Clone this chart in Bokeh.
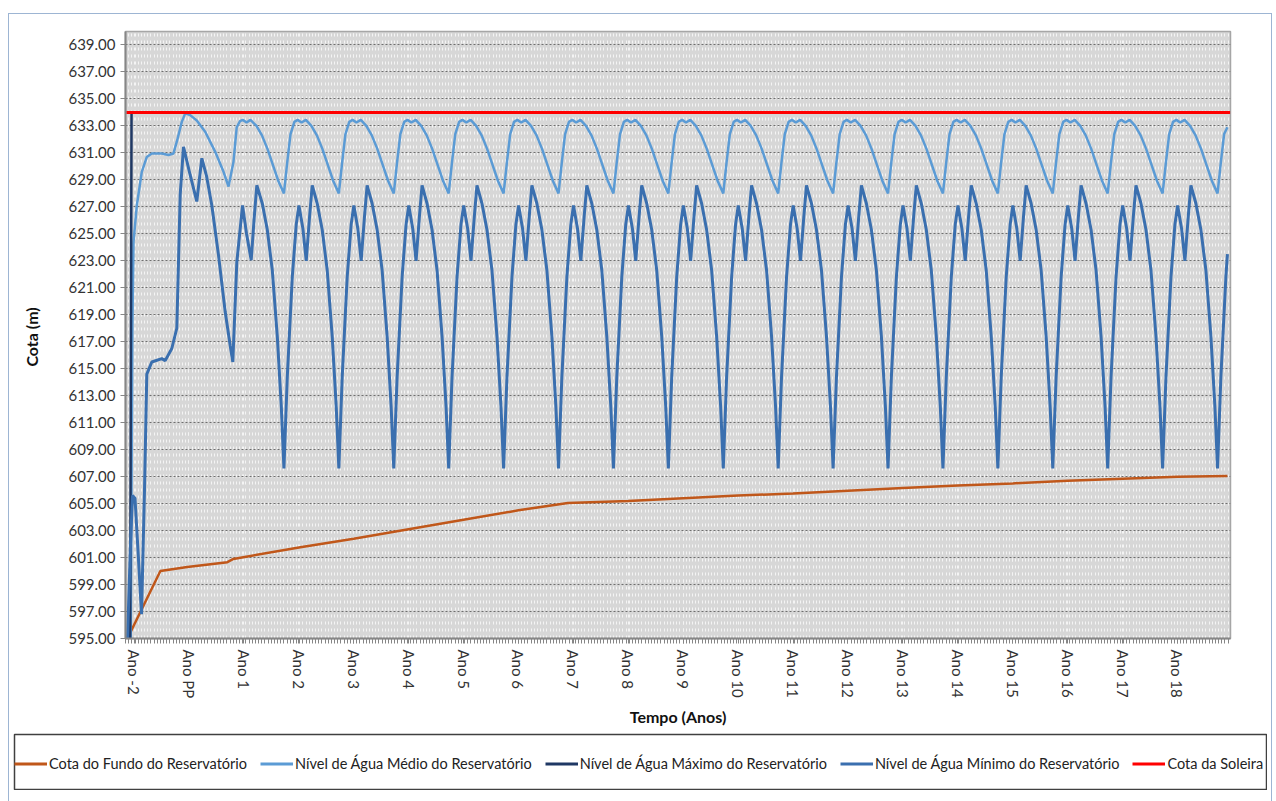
import numpy as np
from bokeh.plotting import figure
from bokeh.layouts import column
from bokeh.models import FixedTicker, NumeralTickFormatter, Range1d, Legend, LegendItem
from bokeh.embed import file_html
from bokeh.resources import INLINE

# ---------------- data (x in "year slots": 0 = Ano -2, 1 = Ano PP, 2 = Ano 1 ... 19 = Ano 18) ----
TICK_POS = [0, 1, 2, 3, 4, 5, 6, 7, 8, 9, 10, 11, 12, 13, 14, 15, 16, 17, 18, 19]
TICK_LABELS = ["Ano -2", "Ano PP", "Ano 1", "Ano 2", "Ano 3", "Ano 4", "Ano 5", "Ano 6",
               "Ano 7", "Ano 8", "Ano 9", "Ano 10", "Ano 11", "Ano 12", "Ano 13",
               "Ano 14", "Ano 15", "Ano 16", "Ano 17", "Ano 18"]
Y_TICKS = [595, 597, 599, 601, 603, 605, 607, 609, 611, 613, 615, 617, 619, 621, 623,
           625, 627, 629, 631, 633, 635, 637, 639]

# Cota do Fundo do Reservatório
FUNDO_X = [-0.12, 0.48, 0.97, 1.70, 1.81, 3.03, 4.0, 5.0, 6.0, 7.0, 7.9, 9.0, 10.0, 11.0,
           12.0, 13.0, 14.0, 15.0, 16.0, 17.0, 18.0, 19.0, 19.91]
FUNDO_V = [595.0, 600.0, 600.3, 600.66, 600.9, 601.77, 602.4, 603.1, 603.8, 604.5, 605.05,
           605.2, 605.4, 605.6, 605.75, 605.95, 606.15, 606.35, 606.5, 606.7, 606.85, 607.0, 607.05]

# Nível de Água Máximo do Reservatório
MAX_X = [-0.07, -0.045, 19.91]
MAX_V = [595.0, 634.0, 634.0]

# Cota da Soleira
SOL_X = [-0.14, 19.96]
SOL_V = [634.0, 634.0]

# Nível de Água Mínimo do Reservatório: start-up years
MIN_START_X = [-0.118, -0.064, -0.027, 0.018, 0.073, 0.137, 0.191, 0.233, 0.324, 0.506,
               0.568, 0.688, 0.779, 0.810, 0.841, 0.901, 1.020, 1.143, 1.235, 1.320, 1.417,
               1.539, 1.661, 1.752, 1.799, 1.872, 1.976, 2.049, 2.134, 2.185, 2.236, 2.336,
               2.427, 2.518, 2.609, 2.682]
MIN_START_V = [595.0, 602.0, 605.6, 605.4, 601.5, 596.8, 606.0, 614.6, 615.5, 615.75,
               615.6, 616.5, 618.0, 622.9, 627.9, 631.45, 629.4, 627.4, 630.6, 629.3, 627.1,
               623.4, 619.2, 616.7, 615.5, 622.9, 627.1, 625.0, 623.05, 626.0, 628.6, 627.25,
               625.3, 622.3, 617.4, 612.2]

# Nível de Água Médio do Reservatório: start-up years
MED_START_X = [-0.06, -0.03, -0.009, 0.051, 0.142, 0.233, 0.324, 0.506, 0.628, 0.719, 0.779,
               0.870, 0.932, 1.023, 1.143, 1.296, 1.479, 1.630, 1.721, 1.81, 1.87, 1.93, 1.98,
               2.05, 2.12, 2.23, 2.33, 2.43, 2.53, 2.63]
MED_START_V = [595.0, 618.0, 624.4, 627.1, 629.6, 630.7, 630.96, 630.96, 630.84, 630.96,
               631.83, 633.3, 633.93, 633.8, 633.4, 632.57, 631.08, 629.6, 628.5, 630.3, 632.9,
               633.35, 633.45, 633.25, 633.45, 633.0, 632.3, 631.3, 630.1, 628.9]

# yearly operation cycles: position of each yearly low and offsets inside a year
CYCLE_LOWS = [2.73, 3.73, 4.73, 5.73, 6.73, 7.73, 8.73, 9.73, 10.73, 11.73, 12.73, 13.73,
              14.73, 15.73, 16.73, 17.73, 18.73]
MIN_T = [0.000, 0.061, 0.152, 0.224, 0.273, 0.345, 0.406, 0.467, 0.515, 0.606, 0.697,
         0.788, 0.879, 0.952]
MIN_CYCLES = [
    [607.6, 614.4, 621.8, 625.7, 627.1, 625.4, 623.0, 626.3, 628.6, 627.25, 625.3, 622.3, 617.4, 612.2],
    [607.6, 614.4, 621.8, 625.7, 627.1, 625.4, 623.0, 626.3, 628.6, 627.25, 625.3, 622.3, 617.4, 612.2],
    [607.6, 614.4, 621.8, 625.7, 627.1, 625.4, 623.0, 626.3, 628.6, 627.25, 625.3, 622.3, 617.4, 612.2],
    [607.6, 614.4, 621.8, 625.7, 627.1, 625.4, 623.0, 626.3, 628.6, 627.25, 625.3, 622.3, 617.4, 612.2],
    [607.6, 614.4, 621.8, 625.7, 627.1, 625.4, 623.0, 626.3, 628.6, 627.25, 625.3, 622.3, 617.4, 612.2],
    [607.6, 614.4, 621.8, 625.7, 627.1, 625.4, 623.0, 626.3, 628.6, 627.25, 625.3, 622.3, 617.4, 612.2],
    [607.6, 614.4, 621.8, 625.7, 627.1, 625.4, 623.0, 626.3, 628.6, 627.25, 625.3, 622.3, 617.4, 612.2],
    [607.6, 614.4, 621.8, 625.7, 627.1, 625.4, 623.0, 626.3, 628.6, 627.25, 625.3, 622.3, 617.4, 612.2],
    [607.6, 614.4, 621.8, 625.7, 627.1, 625.4, 623.0, 626.3, 628.6, 627.25, 625.3, 622.3, 617.4, 612.2],
    [607.6, 614.4, 621.8, 625.7, 627.1, 625.4, 623.0, 626.3, 628.6, 627.25, 625.3, 622.3, 617.4, 612.2],
    [607.6, 614.4, 621.8, 625.7, 627.1, 625.4, 623.0, 626.3, 628.6, 627.25, 625.3, 622.3, 617.4, 612.2],
    [607.6, 614.4, 621.8, 625.7, 627.1, 625.4, 623.0, 626.3, 628.6, 627.25, 625.3, 622.3, 617.4, 612.2],
    [607.6, 614.4, 621.8, 625.7, 627.1, 625.4, 623.0, 626.3, 628.6, 627.25, 625.3, 622.3, 617.4, 612.2],
    [607.6, 614.4, 621.8, 625.7, 627.1, 625.4, 623.0, 626.3, 628.6, 627.25, 625.3, 622.3, 617.4, 612.2],
    [607.6, 614.4, 621.8, 625.7, 627.1, 625.4, 623.0, 626.3, 628.6, 627.25, 625.3, 622.3, 617.4, 612.2],
    [607.6, 614.4, 621.8, 625.7, 627.1, 625.4, 623.0, 626.3, 628.6, 627.25, 625.3, 622.3, 617.4, 612.2],
    [607.6, 614.4, 621.8, 625.7, 627.1, 625.4, 623.0, 626.3, 628.6, 627.25, 625.3, 622.3, 617.4, 612.2],
]
MED_T = [0.00, 0.06, 0.12, 0.19, 0.25, 0.32, 0.40, 0.50, 0.60, 0.70, 0.80, 0.90]
MED_CYCLES = [
    [628.0, 630.3, 632.4, 633.3, 633.45, 633.25, 633.45, 633.0, 632.3, 631.3, 630.1, 628.9],
    [628.0, 630.3, 632.4, 633.3, 633.45, 633.25, 633.45, 633.0, 632.3, 631.3, 630.1, 628.9],
    [628.0, 630.3, 632.4, 633.3, 633.45, 633.25, 633.45, 633.0, 632.3, 631.3, 630.1, 628.9],
    [628.0, 630.3, 632.4, 633.3, 633.45, 633.25, 633.45, 633.0, 632.3, 631.3, 630.1, 628.9],
    [628.0, 630.3, 632.4, 633.3, 633.45, 633.25, 633.45, 633.0, 632.3, 631.3, 630.1, 628.9],
    [628.0, 630.3, 632.4, 633.3, 633.45, 633.25, 633.45, 633.0, 632.3, 631.3, 630.1, 628.9],
    [628.0, 630.3, 632.4, 633.3, 633.45, 633.25, 633.45, 633.0, 632.3, 631.3, 630.1, 628.9],
    [628.0, 630.3, 632.4, 633.3, 633.45, 633.25, 633.45, 633.0, 632.3, 631.3, 630.1, 628.9],
    [628.0, 630.3, 632.4, 633.3, 633.45, 633.25, 633.45, 633.0, 632.3, 631.3, 630.1, 628.9],
    [628.0, 630.3, 632.4, 633.3, 633.45, 633.25, 633.45, 633.0, 632.3, 631.3, 630.1, 628.9],
    [628.0, 630.3, 632.4, 633.3, 633.45, 633.25, 633.45, 633.0, 632.3, 631.3, 630.1, 628.9],
    [628.0, 630.3, 632.4, 633.3, 633.45, 633.25, 633.45, 633.0, 632.3, 631.3, 630.1, 628.9],
    [628.0, 630.3, 632.4, 633.3, 633.45, 633.25, 633.45, 633.0, 632.3, 631.3, 630.1, 628.9],
    [628.0, 630.3, 632.4, 633.3, 633.45, 633.25, 633.45, 633.0, 632.3, 631.3, 630.1, 628.9],
    [628.0, 630.3, 632.4, 633.3, 633.45, 633.25, 633.45, 633.0, 632.3, 631.3, 630.1, 628.9],
    [628.0, 630.3, 632.4, 633.3, 633.45, 633.25, 633.45, 633.0, 632.3, 631.3, 630.1, 628.9],
    [628.0, 630.3, 632.4, 633.3, 633.45, 633.25, 633.45, 633.0, 632.3, 631.3, 630.1, 628.9],
]
# last (partial) year at the right edge
LAST_LOW = 19.73
MIN_END_T = [0.0, 0.061, 0.152, 0.18]
MIN_END_V = [607.6, 614.4, 621.8, 623.5]
MED_END_T = [0.0, 0.06, 0.12, 0.18]
MED_END_V = [628.0, 630.3, 632.4, 632.9]

LEGEND_LABELS = ["Cota do Fundo do Reservatório", "Nível de Água Médio do Reservatório",
                 "Nível de Água Máximo do Reservatório", "Nível de Água Mínimo do Reservatório",
                 "Cota da Soleira"]
COLORS = ["#C0571A", "#5B9BD5", "#1F3864", "#3A6FAF", "#FF0000"]
WIDTHS = [2.5, 2.5, 2.5, 3, 3]

# ---------------- assemble series ----------------
def build(start_x, start_v, t_off, rows, end_t, end_v):
    xs, ys = list(start_x), list(start_v)
    for low, row in zip(CYCLE_LOWS, rows):
        xs += [low + t for t in t_off]
        ys += list(row)
    xs += [LAST_LOW + t for t in end_t]
    ys += list(end_v)
    return xs, ys

min_x, min_y = build(MIN_START_X, MIN_START_V, MIN_T, MIN_CYCLES, MIN_END_T, MIN_END_V)
med_x, med_y = build(MED_START_X, MED_START_V, MED_T, MED_CYCLES, MED_END_T, MED_END_V)

FONT = "Lato"

p = figure(width=1262, height=719, x_range=Range1d(-0.155, 19.966), y_range=Range1d(595, 640),
           output_backend="svg", toolbar_location=None,
           min_border_left=116, min_border_right=41, min_border_top=17, min_border_bottom=95,
           background_fill_color="#D7D7D7", border_fill_color="white")
p.frame_align = False

p.line(FUNDO_X, FUNDO_V, color=COLORS[0], line_width=WIDTHS[0])
p.line(med_x, med_y, color=COLORS[1], line_width=WIDTHS[1])
p.line(MAX_X, MAX_V, color=COLORS[2], line_width=WIDTHS[2])
p.line(min_x, min_y, color=COLORS[3], line_width=WIDTHS[3])
p.line(SOL_X, SOL_V, color=COLORS[4], line_width=WIDTHS[4])

# axes
minor = list(np.arange(-0.155, 19.966, 3 / 52))
p.xaxis.ticker = FixedTicker(ticks=TICK_POS, minor_ticks=minor)
p.xaxis.major_label_overrides = {k: v for k, v in zip(TICK_POS, TICK_LABELS)}
p.xaxis.major_label_orientation = "vertical"
p.yaxis.ticker = FixedTicker(ticks=Y_TICKS)
p.yaxis.formatter = NumeralTickFormatter(format="0.00")

for ax in (p.xaxis[0], p.yaxis[0]):
    ax.axis_line_color = "#868686"
    ax.axis_line_width = 2
    ax.major_tick_line_color = "#868686"
    ax.minor_tick_line_color = "#868686"
    ax.major_tick_in = 0
    ax.minor_tick_in = 0
    ax.major_tick_out = 5
    ax.minor_tick_out = 5
    ax.major_label_text_font = FONT
    ax.major_label_text_font_size = "15px"
    ax.major_label_text_color = "#333333"
    ax.axis_label_text_font = FONT
    ax.axis_label_text_font_size = "16px"
    ax.axis_label_text_font_style = "bold"
    ax.axis_label_text_color = "#111111"

p.yaxis.minor_tick_line_color = None
p.xaxis.major_label_standoff = 6
p.yaxis.major_label_standoff = 5
p.xaxis.axis_label = "Tempo (Anos)"
p.yaxis.axis_label = "Cota  (m)"
p.xaxis.axis_label_standoff = 6
p.yaxis.axis_label_standoff = 24

# grids
p.xgrid.grid_line_color = "#F4F4F4"
p.xgrid.grid_line_dash = "3 4"
p.xgrid.grid_line_width = 1
p.xgrid.minor_grid_line_color = "#F4F4F4"
p.xgrid.minor_grid_line_dash = "3 4"
p.xgrid.minor_grid_line_width = 1
p.ygrid.grid_line_color = "#6E6E6E"
p.ygrid.grid_line_dash = "2 2"
p.ygrid.grid_line_width = 1
p.outline_line_color = "#A6A6A6"
p.outline_line_width = 1.5

# legend box (separate strip below the chart, as in the reference)
lg = figure(width=1254, height=57, x_range=Range1d(0, 1), y_range=Range1d(0, 1),
            output_backend="svg", toolbar_location=None, min_border=1,
            x_axis_type=None, y_axis_type=None, outline_line_color="#404040",
            outline_line_width=1.5, background_fill_color="white", margin=(0, 0, 30, 4))
lg.frame_align = False
lg.xgrid.visible = False
lg.ygrid.visible = False
items = []
for lab, col in zip(LEGEND_LABELS, COLORS):
    r = lg.line(x=[np.nan, np.nan], y=[np.nan, np.nan], color=col, line_width=3)
    items.append(LegendItem(label=lab, renderers=[r]))
legend = Legend(items=items, orientation="horizontal", location=(0, 0))
legend.label_text_font = FONT
legend.label_text_font_size = "14.5px"
legend.label_text_color = "#222222"
legend.glyph_width = 33
legend.glyph_height = 51
legend.label_height = 51
legend.label_standoff = 2
legend.spacing = 13
legend.padding = 2
legend.border_line_color = None
legend.background_fill_alpha = 0
lg.add_layout(legend, "center")

layout = column(p, lg, margin=(13, 0, 0, 8), styles={"border": "1px solid #9DB5D3"})

open("out.html", "w").write(file_html(layout, INLINE))
